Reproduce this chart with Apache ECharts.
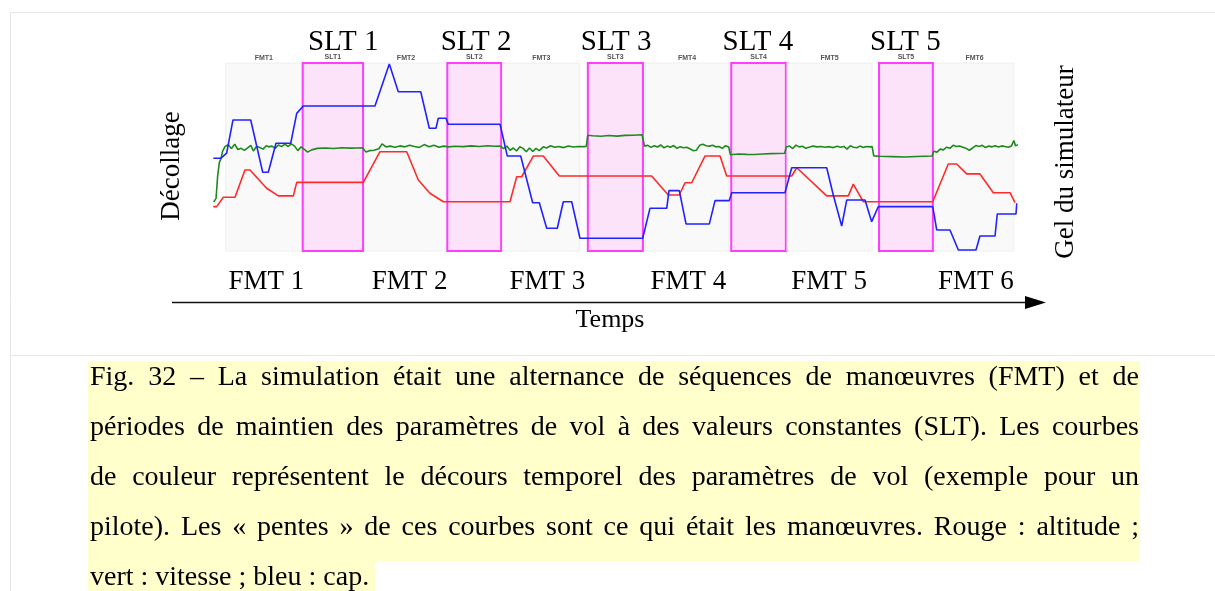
<!DOCTYPE html>
<html>
<head>
<meta charset="utf-8">
<script src="https://cdn.jsdelivr.net/npm/echarts@6/dist/echarts.min.js"></script>
<style>
  html, body { margin: 0; padding: 0; background: #ffffff; }
  #chart { width: 1215px; height: 591px; }
</style>
</head>
<body>
<div id="chart"></div>
<script>
// Flight phases along the time axis (time in arbitrary units 0-100)
const phaseNames = ['FMT1', 'SLT1', 'FMT2', 'SLT2', 'FMT3', 'SLT3', 'FMT4', 'SLT4', 'FMT5', 'SLT5', 'FMT6'];
const phaseStart = [1.7, 11.2, 18.9, 29.05, 35.9, 46.4, 53.5, 64.1, 71.0, 82.35, 89.3];
const phaseEnd   = [11.1, 18.65, 29.0, 35.7, 45.4, 53.2, 63.8, 70.85, 81.5, 89.0, 99.0];

// Large phase titles
const sltTitles = ['SLT 1', 'SLT 2', 'SLT 3', 'SLT 4', 'SLT 5'];
const sltTitleTimes = [16.2, 32.6, 49.9, 67.4, 85.6];
const fmtTitles = ['FMT 1', 'FMT 2', 'FMT 3', 'FMT 4', 'FMT 5', 'FMT 6'];
const fmtTitleTimes = [6.7, 24.4, 41.4, 58.8, 76.2, 94.3];

// Heading (cap) - blue
const capBleu = [
  [0.16, 49.3], [1.07, 49.3], [1.81, 52.1], [2.59, 69.7], [4.78, 69.7], [6.26, 41.9], [6.95, 41.9],
  [7.90, 57.3], [9.72, 57.3], [10.46, 73.2], [11.27, 77.1], [20.12, 77.1], [21.89, 99.5], [23.0, 84.7],
  [25.77, 84.7], [26.83, 65.3], [27.65, 65.3], [27.94, 70.6], [28.89, 70.6], [29.17, 67.4], [35.56, 67.4],
  [36.46, 50.5], [38.11, 50.5], [39.59, 25.7], [40.41, 25.7], [41.32, 12.1], [42.63, 12.1], [43.37, 26.2],
  [44.41, 26.2], [45.43, 6.8], [53.17, 6.8], [54.07, 22.7], [56.14, 22.7], [56.42, 32.1], [57.69, 32.1],
  [58.52, 14.4], [61.40, 14.4], [62.10, 26.8], [63.86, 26.8], [64.16, 31.0], [70.74, 31.0], [71.57, 44.3],
  [75.89, 44.3], [76.70, 29.8], [77.74, 13.3], [78.36, 27.1], [80.62, 27.1], [81.44, 15.6], [82.26, 23.6],
  [88.98, 23.6], [89.47, 11.2], [91.11, 11.2], [92.14, 0.5], [94.32, 0.5], [94.81, 8.0], [96.67, 8.0],
  [96.95, 19.7], [99.26, 19.7], [99.35, 25.4]
];

// Altitude - red
const altitudeRouge = [
  [0.16, 23.6], [0.58, 23.6], [1.40, 28.6], [2.84, 28.6], [4.07, 43.1], [4.69, 43.1], [6.75, 33.4],
  [8.19, 29.3], [10.04, 29.3], [10.46, 36.5], [18.68, 36.5], [20.74, 52.8], [24.04, 52.8], [25.47, 37.8],
  [26.91, 30.7], [28.56, 26.2], [36.79, 26.2], [37.62, 39.5], [38.23, 39.5], [39.67, 50.5], [40.90, 50.5],
  [42.88, 39.9], [54.28, 39.9], [56.33, 29.8], [57.69, 29.8], [58.40, 36.3], [59.22, 36.3], [60.86, 50.5],
  [62.72, 50.5], [63.54, 39.9], [71.57, 39.9], [72.19, 44.3], [75.89, 29.3], [78.56, 29.3], [79.17, 35.6],
  [80.41, 26.2], [88.98, 26.2], [90.90, 46.3], [91.94, 46.3], [93.17, 41.0], [94.81, 41.0], [96.46, 31.0],
  [98.52, 31.0], [99.14, 25.7]
];

// Speed (vitesse) - green
const vitesseVert = [
  [0.2, 26], [0.5, 28], [0.7, 40], [0.9, 47], [1.1, 49], [1.3, 53], [1.6, 55.5], [2.0, 56.5], [2.4, 54.5],
  [2.8, 56.8], [3.2, 54], [3.6, 54.6], [4.0, 53.5], [4.4, 54.8], [4.8, 56.2], [5.1, 53.2], [5.5, 55.6],
  [5.9, 55], [6.3, 54.2], [6.7, 56], [7.0, 55.4], [7.4, 55.8], [7.8, 54.6], [8.2, 56.4], [8.6, 55.5],
  [9.0, 56.8], [9.4, 55.6], [9.8, 57], [10.2, 55.8], [10.6, 53.4], [11.0, 55.4], [11.4, 54], [11.8, 52.6],
  [12.3, 53.8], [13, 54.6], [14, 54.8], [15, 54.5], [16, 54.9], [17, 54.7], [18, 54.8], [18.6, 54.9],
  [19.0, 52.6], [19.5, 53.4], [20.0, 53.6], [20.6, 54.4], [21.0, 57.0], [21.5, 55.4], [22.0, 55.8],
  [22.6, 55.2], [23.2, 55.9], [23.8, 55.4], [24.4, 56.2], [25.0, 55.6], [25.6, 55.1], [26.2, 56.6],
  [26.8, 55.5], [27.4, 56.3], [28.0, 55.2], [28.6, 55.8], [29.2, 55.4], [30, 55.7], [31, 55.5], [32, 55.9],
  [33, 55.6], [34, 56], [35, 55.7], [35.6, 55.8], [36.0, 54.5], [36.4, 55.8], [36.8, 53.6], [37.2, 54.8],
  [37.6, 53.2], [38.0, 55.4], [38.4, 54.6], [38.8, 52.8], [39.2, 54.8], [39.6, 52.9], [40.0, 54.6],
  [40.4, 53.4], [40.9, 55.4], [41.3, 54.8], [41.8, 56], [42.3, 55.2], [42.8, 55.6], [43.4, 55], [44, 55.9],
  [44.6, 55.3], [45.2, 55.6], [45.8, 55.5], [46.2, 55.6], [46.4, 61.6], [47, 61.3], [48, 61.0], [49, 61.4],
  [50, 61.1], [51, 61.5], [52, 61.6], [53.1, 61.8], [53.4, 55.8], [53.8, 56.2], [54.2, 55.1], [54.6, 56],
  [55.0, 55.3], [55.4, 56.4], [55.8, 54.9], [56.2, 55.8], [56.6, 55.2], [57.0, 56.1], [57.4, 54.6],
  [57.8, 55.5], [58.2, 54.9], [58.6, 55.2], [59.0, 54.4], [59.4, 53.4], [59.8, 53.6], [60.2, 56.2],
  [60.6, 56.8], [61.0, 56.0], [61.4, 55.8], [61.8, 56.2], [62.2, 55.4], [62.6, 55.6], [63.0, 54.6],
  [63.4, 56], [63.8, 55.3], [64.0, 51.2], [65, 51.6], [66, 51.4], [67, 51.3], [68, 51.6], [69, 51.8],
  [70.7, 52.0], [70.9, 55.3], [71.3, 55.8], [71.7, 54.5], [72.1, 56.3], [72.5, 55.4], [72.9, 55.7],
  [73.3, 54.6], [73.7, 55.2], [74.2, 55.8], [74.7, 55.4], [75.2, 55.6], [75.7, 55.2], [76.2, 55.5],
  [76.7, 55], [77.2, 55.7], [77.6, 55.2], [78.0, 55.6], [78.4, 54.2], [78.8, 56], [79.2, 55.2],
  [79.6, 54.9], [80.0, 55.8], [80.4, 55.1], [80.8, 55.6], [81.2, 55.4], [81.5, 55.5], [81.7, 50.6],
  [82.5, 50.4], [84, 50.2], [85.5, 50.0], [87, 50.3], [88.9, 50.5], [89.1, 53.1], [89.5, 52.6],
  [89.9, 54.2], [90.3, 53.8], [90.7, 55.2], [91.1, 54.6], [91.5, 56.2], [91.9, 55.6], [92.3, 55.8],
  [92.7, 55.2], [93.1, 54.6], [93.5, 53.6], [93.9, 54.8], [94.3, 56.1], [94.7, 55.6], [95.1, 56.2],
  [95.5, 55.0], [95.9, 55.8], [96.3, 55.4], [96.7, 56.0], [97.1, 55.3], [97.5, 55.9], [97.9, 55.6],
  [98.3, 55.2], [98.7, 55.9], [99.0, 58.8], [99.2, 55.9], [99.5, 56.6]
];

// Caption text
const captionLines = [
  'Fig. 32 – La simulation était une alternance de séquences de manœuvres (FMT) et de',
  'périodes de maintien des paramètres de vol à des valeurs constantes (SLT). Les courbes',
  'de couleur représentent le décours temporel des paramètres de vol (exemple pour un',
  'pilote). Les « pentes » de ces courbes sont ce qui était les manœuvres. Rouge : altitude ;',
  'vert : vitesse ; bleu : cap.'
];

const SERIF = "'Liberation Serif', 'Times New Roman', serif";

const chart = echarts.init(document.getElementById('chart'), null, { renderer: 'canvas' });

const panelAreas = phaseNames.map((name, i) => {
  const isSlt = name.startsWith('SLT');
  return [
    {
      name: name,
      xAxis: phaseStart[i],
      yAxis: 0,
      itemStyle: isSlt
        ? { color: '#fce3f9', borderColor: '#ff3cff', borderWidth: 2, opacity: 1 }
        : { color: '#f9f9f9', borderColor: '#eeeeee', borderWidth: 1, opacity: 1 }
    },
    { xAxis: phaseEnd[i], yAxis: 100 }
  ];
});

function lineSeries(name, data, color) {
  return {
    name: name,
    type: 'line',
    data: data,
    symbol: 'none',
    z: 5,
    silent: true,
    lineStyle: { color: color, width: 1.6 },
    animation: false
  };
}

chart.setOption({
  animation: false,
  backgroundColor: '#ffffff',
  grid: { left: 212, top: 63, width: 810, height: 188, containLabel: false },
  xAxis: { type: 'value', min: 0, max: 100, show: false },
  yAxis: { type: 'value', min: 0, max: 100, show: false },
  series: [
    {
      name: 'phases',
      type: 'line',
      data: [],
      z: 1,
      silent: true,
      markArea: {
        silent: true,
        label: {
          show: true,
          position: 'top',
          distance: 1,
          fontSize: 7,
          fontWeight: 'bold',
          fontFamily: 'Arial, Liberation Sans, sans-serif',
          color: '#555555'
        },
        data: panelAreas
      }
    },
    lineSeries('vitesse', vitesseVert, '#1e8a1e'),
    lineSeries('altitude', altitudeRouge, '#ff2a2a'),
    lineSeries('cap', capBleu, '#2222ff')
  ]
});

// Annotations: phase titles, time arrow, side labels, page frame, caption
function textEl(text, x, y, size, extra) {
  return Object.assign({
    type: 'text',
    x: x,
    y: y,
    silent: true,
    z: 10,
    style: {
      text: text,
      font: size + 'px ' + SERIF,
      fill: '#000000',
      textAlign: 'center',
      align: 'center',
      textVerticalAlign: 'middle',
      verticalAlign: 'middle'
    }
  }, extra || {});
}

const graphics = [];

// page frame lines
const frameColor = '#e6e6e6';
graphics.push({ type: 'line', silent: true, z: 0, shape: { x1: 10, y1: 12.5, x2: 1215, y2: 12.5 }, style: { stroke: frameColor, lineWidth: 1 } });
graphics.push({ type: 'line', silent: true, z: 0, shape: { x1: 10.5, y1: 12, x2: 10.5, y2: 591 }, style: { stroke: frameColor, lineWidth: 1 } });
graphics.push({ type: 'line', silent: true, z: 0, shape: { x1: 10, y1: 355.5, x2: 1215, y2: 355.5 }, style: { stroke: frameColor, lineWidth: 1 } });

sltTitles.forEach((t, i) => {
  const p = chart.convertToPixel({ gridIndex: 0 }, [sltTitleTimes[i], 0]);
  graphics.push(textEl(t, p[0], 42, 29));
});
fmtTitles.forEach((t, i) => {
  const p = chart.convertToPixel({ gridIndex: 0 }, [fmtTitleTimes[i], 0]);
  graphics.push(textEl(t, p[0], 282, 27));
});

// time arrow
graphics.push({ type: 'line', silent: true, z: 10, shape: { x1: 172, y1: 302.5, x2: 1030, y2: 302.5 }, style: { stroke: '#111111', lineWidth: 1.6 } });
graphics.push({ type: 'polygon', silent: true, z: 10, shape: { points: [[1025, 296], [1046, 302.5], [1025, 309]] }, style: { fill: '#000000' } });
graphics.push(textEl('Temps', 610, 320, 26));

// side labels
graphics.push(textEl('Décollage', 172, 166, 27, { rotation: Math.PI / 2 }));
graphics.push(textEl('Gel du simulateur', 1066, 162, 27, { rotation: Math.PI / 2 }));

// caption, justified
(function () {
  const font = '28px ' + SERIF;
  const ctx = document.createElement('canvas').getContext('2d');
  ctx.font = font;
  const left = 90, right = 1139, top0 = 361, lineH = 50;
  const spaceW = ctx.measureText(' ').width;
  captionLines.forEach((line, i) => {
    const top = top0 + i * lineH;
    const words = line.split(' ');
    const widths = words.map(w => ctx.measureText(w).width);
    const sum = widths.reduce((a, b) => a + b, 0);
    const last = i === captionLines.length - 1;
    const gap = last ? spaceW : (right - left - sum) / (words.length - 1);
    const hlRight = last ? left + sum + gap * (words.length - 1) + 6 : 1140;
    graphics.push({ type: 'rect', silent: true, z: 1, shape: { x: 88, y: top, width: hlRight - 88, height: lineH }, style: { fill: '#ffffcc' } });
    let x = left;
    words.forEach((w, k) => {
      graphics.push({
        type: 'text', silent: true, z: 10, x: x, y: top + 16.7,
        style: { text: w, font: font, fill: '#000000', textAlign: 'left', align: 'left', textVerticalAlign: 'middle', verticalAlign: 'middle' }
      });
      x += widths[k] + gap;
    });
  });
})();

chart.setOption({ graphic: { elements: graphics } });
</script>
</body>
</html>
